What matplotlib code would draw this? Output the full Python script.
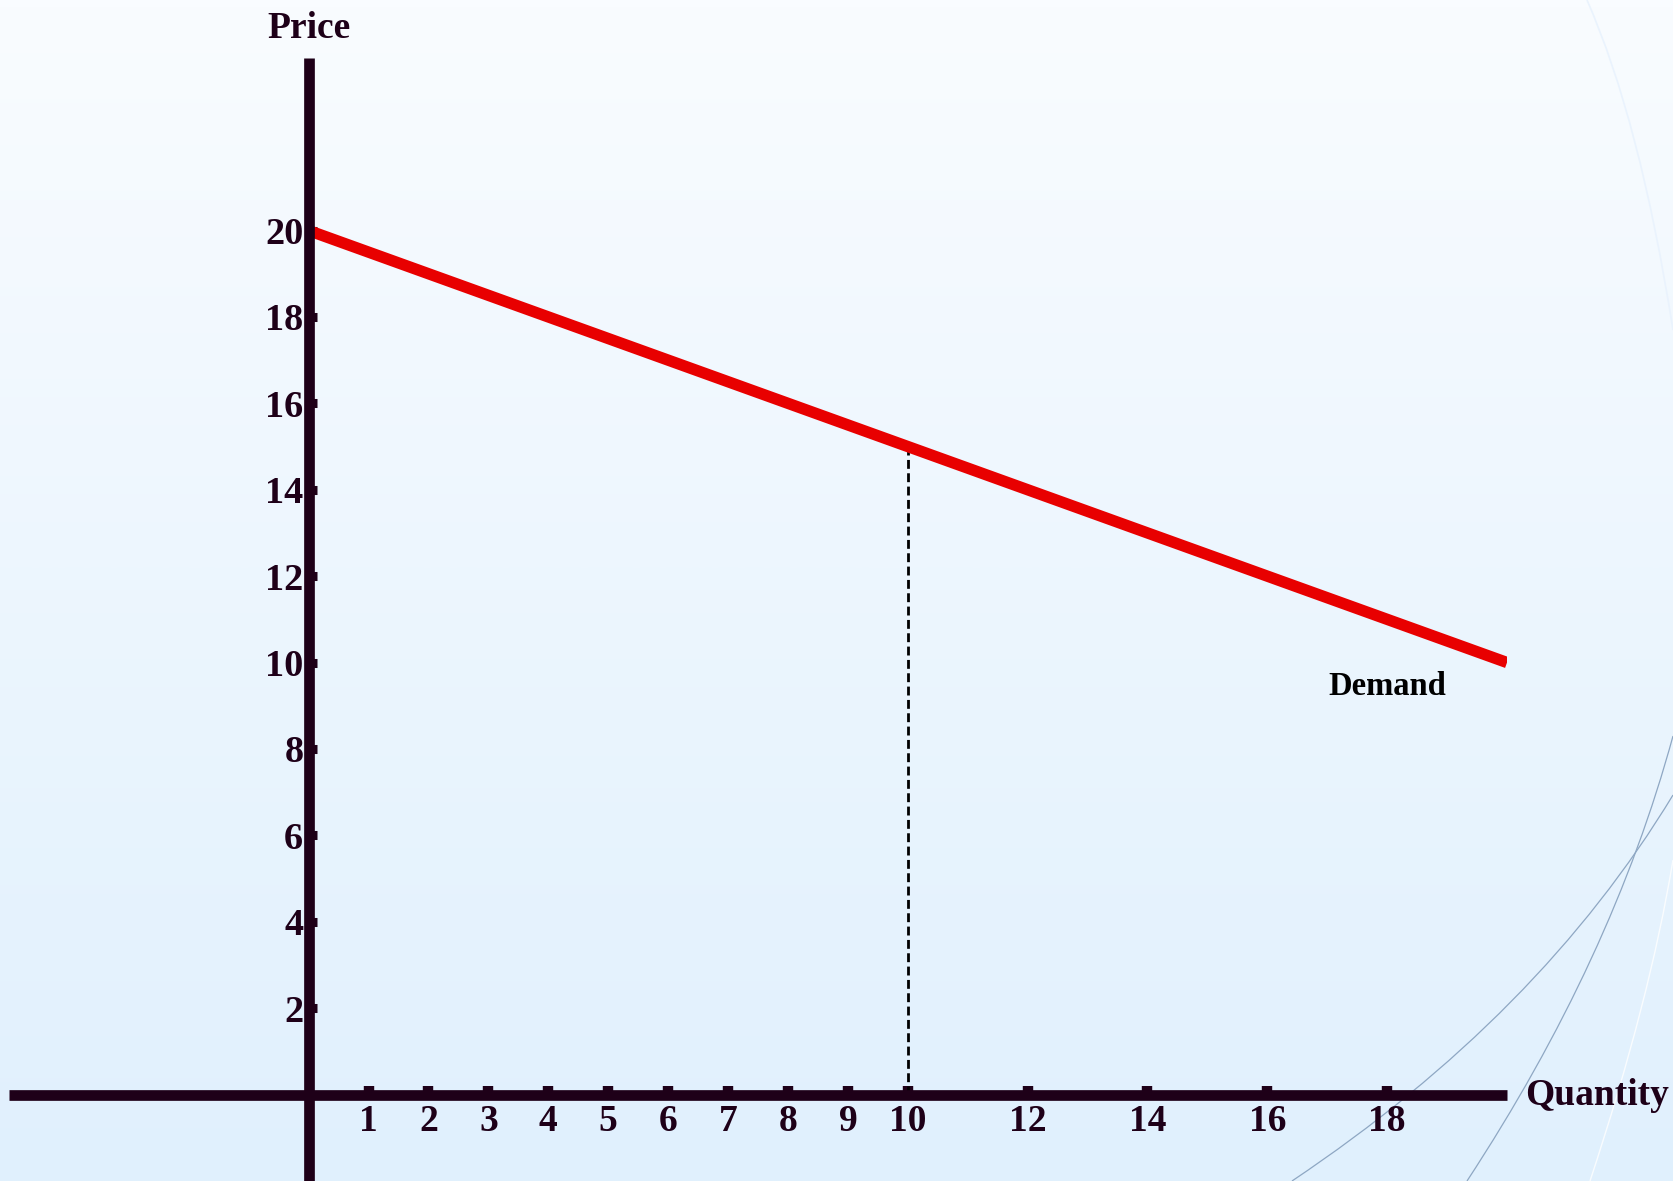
import numpy as np
import matplotlib
matplotlib.use("Agg")
import matplotlib.pyplot as plt
from matplotlib.path import Path
from matplotlib.patches import PathPatch
from matplotlib.colors import LinearSegmentedColormap

# ---- data ----
demand_q = [0, 20]
demand_p = [20, 10]
marked_q = 10
marked_p = 15
x_ticks = [1, 2, 3, 4, 5, 6, 7, 8, 9, 10, 12, 14, 16, 18]
y_ticks = [2, 4, 6, 8, 10, 12, 14, 16, 18, 20]
x_label = "Quantity"
y_label = "Price"
curve_label = "Demand"

W, H = 1673, 1181
DARK = "#1E0018"
FONT = "Liberation Serif"

fig = plt.figure(figsize=(W / 100, H / 100), dpi=100)

# ---- background gradient + decorative arcs ----
bg = fig.add_axes([0, 0, 1, 1], zorder=0)
cmap = LinearSegmentedColormap.from_list("bgg", ["#F9FCFF", "#E0F0FD"])
grad = np.linspace(0, 1, 256).reshape(-1, 1)
bg.imshow(grad, cmap=cmap, extent=[0, W, H, 0], aspect="auto", interpolation="bilinear")
bg.set_xlim(0, W)
bg.set_ylim(H, 0)
bg.axis("off")

def arc(p0, c, p2, color, lw, alpha=1.0):
    path = Path([p0, c, p2], [Path.MOVETO, Path.CURVE3, Path.CURVE3])
    bg.add_patch(PathPatch(path, facecolor="none", edgecolor=color, lw=lw, alpha=alpha))

arc((1292, 1181), (1540, 1015), (1673, 795), "#8EA7C3", 0.9)
arc((1467, 1181), (1612, 960), (1673, 736), "#8EA7C3", 0.9)
arc((1590, 1181), (1650, 1000), (1673, 860), "#FFFFFF", 1.0, 0.8)
arc((1587, 0), (1640, 120), (1673, 330), "#EAF3FD", 1.2, 1.0)

# ---- main axes ----
ax = fig.add_axes([9 / W, 0, 1498 / W, (H - 57.7) / H], zorder=1)
ax.patch.set_alpha(0)
ax.set_xlim(-5, 20)
ax.set_ylim(-2, 24)

for s in ("top", "right"):
    ax.spines[s].set_visible(False)
for s in ("left", "bottom"):
    ax.spines[s].set_position(("data", 0))
    ax.spines[s].set_color(DARK)
    ax.spines[s].set_linewidth(7.7)
    ax.spines[s].set_capstyle("butt")

ax.set_xticks(x_ticks)
ax.set_xticklabels([str(v) for v in x_ticks])
ax.set_yticks(y_ticks)
ax.set_yticklabels([str(v) for v in y_ticks])
ax.tick_params(axis="x", direction="in", length=6.3, width=7.5, color=DARK,
               pad=6.5, labelsize=27, labelcolor=DARK)
ax.tick_params(axis="y", direction="in", length=6.0, width=6.5, color=DARK,
               pad=3.8, labelsize=27.5, labelcolor=DARK)
for lab in ax.get_xticklabels() + ax.get_yticklabels():
    lab.set_fontfamily(FONT)
    lab.set_fontweight("bold")

# demand curve
ax.plot(demand_q, demand_p, color="#E80000", lw=8.2, solid_capstyle="butt", zorder=2)
# dashed guide
ax.plot([marked_q, marked_q], [0, marked_p], color="#000000", lw=2,
        linestyle=(0, (3.2, 1.6)), zorder=1.9)

ax.text(0, 24.45, y_label, ha="center", va="baseline", fontsize=27,
        fontfamily=FONT, fontweight="bold", color=DARK, clip_on=False)
ax.text(20.3, -0.24, x_label, ha="left", va="baseline", fontsize=27,
        fontfamily=FONT, fontweight="bold", color=DARK, clip_on=False)
ax.text(18.0, 9.25, curve_label, ha="center", va="baseline", fontsize=23.5,
        fontfamily=FONT, fontweight="bold", color="#000000", clip_on=False)

fig.savefig("out.png", dpi=100)
